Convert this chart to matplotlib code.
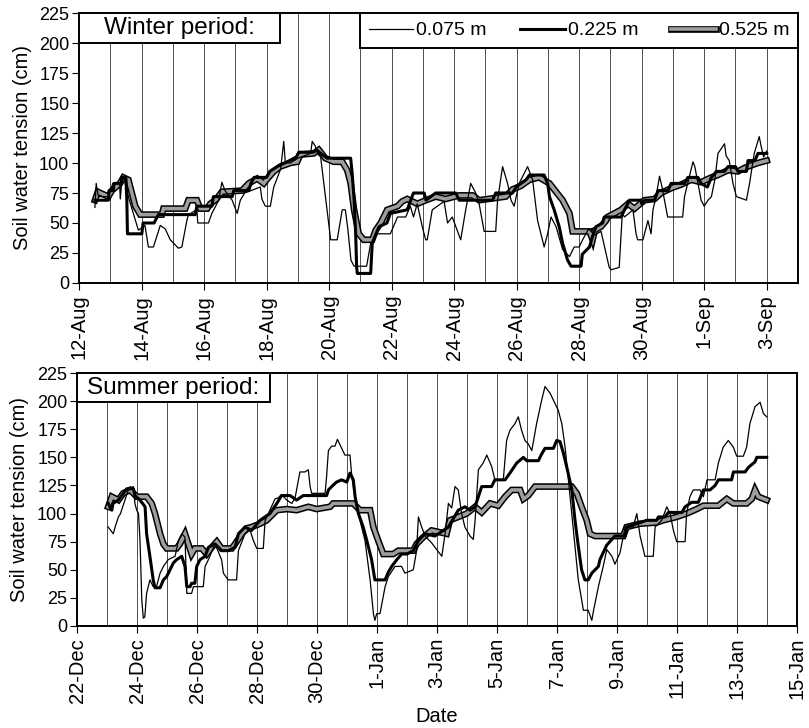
import numpy as np
import pandas as pd
import matplotlib
matplotlib.use('Agg')
import matplotlib.pyplot as plt
import matplotlib.dates as mdates
import matplotlib.patheffects as pe
from matplotlib.patches import Rectangle

plt.rcParams['font.family'] = ['Liberation Sans', 'DejaVu Sans']

# period limits and tick dates
winter_start, winter_end = '2000-08-12', '2000-09-04'
summer_start, summer_end = '2000-12-22', '2001-01-15'
depth_labels = ['0.075 m', '0.225 m', '0.525 m']
y_ticks = [0, 25, 50, 75, 100, 125, 150, 175, 200, 225]

# (days after period start, soil water tension in cm)
winter_075 = [
    (0.51, 63), (0.55, 83), (0.62, 72), (0.94, 72), (1.0, 76), (1.08, 83), (1.3, 83), (1.32, 70),
    (1.38, 88), (1.45, 86), (1.6, 70), (1.9, 44), (2.11, 48), (2.22, 30), (2.38, 30), (2.6, 48),
    (2.76, 45), (2.92, 36), (3.18, 29), (3.29, 30), (3.45, 52), (3.5, 57), (3.77, 61), (3.8, 50),
    (4.14, 50), (4.25, 58), (4.47, 69), (4.57, 84), (4.67, 77), (4.9, 69), (5.06, 58), (5.16, 69),
    (5.3, 75), (5.8, 80), (5.85, 70), (5.96, 64), (6.12, 64), (6.23, 80), (6.45, 95), (6.55, 118),
    (6.6, 100), (6.76, 100), (7.0, 104), (7.41, 108), (7.46, 118), (7.56, 114), (7.62, 108),
    (7.73, 105), (8.05, 36), (8.26, 36), (8.42, 61), (8.52, 61), (8.6, 45), (8.7, 19), (8.8, 14),
    (9.2, 14), (9.33, 33), (9.55, 41), (9.96, 41), (10.06, 47), (10.19, 55), (10.45, 55),
    (10.6, 64), (10.7, 55), (10.82, 66), (10.98, 47), (11.09, 36), (11.14, 36), (11.3, 61),
    (11.68, 68), (11.79, 50), (11.94, 55), (12.21, 36), (12.37, 61), (12.53, 83), (12.69, 75),
    (12.8, 66), (12.96, 43), (13.33, 43), (13.39, 69), (13.55, 97), (13.71, 83), (13.82, 69),
    (13.92, 64), (14.08, 83), (14.35, 97), (14.51, 86), (14.67, 52), (14.88, 30), (14.99, 41),
    (15.1, 55), (15.26, 47), (15.47, 28), (15.69, 22), (15.84, 30), (16.0, 30), (16.11, 36),
    (16.3, 45), (16.5, 40), (16.7, 43), (16.96, 13), (17.02, 11), (17.28, 13), (17.38, 58),
    (17.45, 55), (17.72, 61), (17.82, 41), (17.87, 36), (18.04, 36), (18.2, 52), (18.3, 41),
    (18.36, 61), (18.46, 72), (18.57, 89), (18.65, 80), (18.73, 69), (18.83, 55), (19.31, 55),
    (19.37, 72), (19.53, 89), (19.64, 101), (19.7, 97), (19.8, 83), (19.9, 69), (20.0, 64),
    (20.12, 69), (20.23, 72), (20.34, 86), (20.44, 108), (20.65, 116), (20.7, 106), (20.8, 102),
    (20.92, 83), (21.03, 72), (21.35, 69), (21.45, 83), (21.6, 108), (21.76, 122), (21.82, 114),
    (21.9, 105), (22.0, 110),
]
winter_225 = [
    (0.51, 69), (0.94, 69), (0.96, 77), (1.1, 77), (1.12, 83), (1.35, 83), (1.37, 88), (1.5, 88),
    (1.53, 69), (1.55, 41), (2.01, 41), (2.05, 50), (2.4, 50), (2.54, 57), (3.72, 57), (3.77, 64),
    (4.25, 64), (4.3, 72), (4.9, 72), (4.95, 77), (5.43, 77), (5.5, 83), (5.6, 88), (6.0, 88),
    (6.1, 93), (6.34, 97), (6.66, 101), (6.95, 105), (7.03, 109), (7.51, 109), (7.6, 111),
    (7.78, 107), (7.94, 104), (8.69, 104), (8.74, 91), (8.8, 69), (8.85, 41), (8.88, 14), (8.9, 8),
    (9.33, 8), (9.38, 33), (9.5, 41), (9.6, 47), (9.85, 50), (9.96, 58), (10.5, 61), (10.61, 69),
    (10.7, 75), (11.04, 75), (11.1, 69), (11.41, 75), (12.05, 75), (12.16, 69), (13.23, 69),
    (13.33, 75), (13.87, 75), (13.98, 80), (14.3, 86), (14.41, 90), (14.88, 90), (14.99, 83),
    (15.05, 72), (15.2, 61), (15.36, 47), (15.47, 33), (15.63, 19), (15.74, 14), (16.06, 14),
    (16.1, 24), (16.33, 30), (16.43, 39), (16.54, 47), (16.75, 50), (16.8, 55), (17.34, 55),
    (17.45, 61), (17.61, 69), (17.98, 69), (18.0, 66), (18.1, 69), (18.41, 69), (18.52, 77),
    (18.84, 77), (18.94, 83), (19.37, 83), (19.48, 88), (19.8, 88), (19.9, 83), (20.1, 80),
    (20.23, 88), (20.39, 93), (20.65, 93), (20.76, 97), (21.0, 97), (21.08, 93), (21.35, 93),
    (21.4, 102), (21.62, 102), (21.72, 108), (22.0, 108),
]
winter_525 = [
    (0.51, 69), (0.6, 76), (0.94, 72), (1.05, 77), (1.31, 83), (1.42, 88), (1.58, 86), (1.69, 75),
    (1.8, 64), (1.96, 57), (2.65, 57), (2.7, 62), (3.4, 62), (3.5, 69), (3.77, 69), (3.88, 62),
    (4.1, 62), (4.2, 66), (4.4, 70), (4.57, 76), (5.21, 77), (5.43, 83), (5.7, 87), (5.91, 83),
    (6.0, 86), (6.23, 93), (6.44, 97), (6.76, 100), (6.98, 101), (7.08, 107), (7.51, 108),
    (7.67, 111), (7.88, 104), (8.15, 101), (8.42, 101), (8.58, 94), (8.69, 83), (8.8, 61),
    (8.95, 41), (9.11, 36), (9.38, 36), (9.49, 44), (9.65, 50), (9.86, 61), (10.19, 64),
    (10.34, 68), (10.5, 70), (10.82, 66), (11.1, 69), (11.41, 72), (11.73, 70), (12.16, 73),
    (12.59, 73), (12.8, 69), (13.65, 72), (13.87, 78), (14.14, 81), (14.41, 86), (14.72, 88),
    (15.05, 83), (15.26, 76), (15.47, 69), (15.69, 58), (15.79, 43), (16.33, 43), (16.43, 36),
    (16.5, 44), (16.7, 47), (16.86, 52), (16.91, 55), (17.34, 61), (17.56, 66), (17.77, 62),
    (18.09, 69), (18.41, 70), (18.62, 75), (18.94, 79), (19.26, 82), (19.58, 86), (19.9, 84),
    (20.23, 88), (20.44, 90), (20.76, 94), (21.08, 93), (21.3, 96), (21.5, 98), (21.72, 100),
    (22.0, 102),
]

summer_075 = [
    (1.04, 88), (1.21, 82), (1.27, 88), (1.38, 97), (1.45, 100), (1.6, 112), (1.71, 121),
    (1.88, 124), (1.93, 109), (1.99, 103), (2.05, 100), (2.1, 76), (2.16, 23), (2.21, 7),
    (2.26, 8), (2.32, 29), (2.43, 41), (2.54, 35), (2.65, 35), (2.77, 47), (2.88, 53), (3.04, 59),
    (3.27, 62), (3.38, 76), (3.49, 82), (3.6, 79), (3.66, 29), (3.82, 29), (3.88, 35), (4.21, 35),
    (4.27, 53), (4.38, 59), (4.6, 73), (4.82, 59), (4.88, 47), (5.04, 41), (5.32, 41), (5.38, 67),
    (5.6, 82), (5.77, 85), (5.88, 76), (5.99, 69), (6.21, 69), (6.27, 94), (6.43, 103),
    (6.6, 113), (6.71, 114), (6.82, 117), (6.99, 112), (7.16, 109), (7.27, 114), (7.38, 130),
    (7.43, 137), (7.6, 137), (7.71, 139), (7.77, 124), (7.82, 118), (8.27, 118), (8.32, 133),
    (8.38, 156), (8.49, 160), (8.6, 160), (8.68, 166), (8.77, 161), (8.93, 152), (9.1, 152),
    (9.16, 133), (9.32, 106), (9.49, 88), (9.6, 76), (9.77, 41), (9.88, 11), (9.93, 5),
    (9.99, 11), (10.1, 11), (10.27, 35), (10.38, 44), (10.6, 53), (10.82, 53), (10.93, 47),
    (11.21, 50), (11.32, 67), (11.38, 97), (11.49, 88), (11.6, 80), (11.82, 74), (11.99, 68),
    (12.16, 62), (12.27, 82), (12.38, 109), (12.49, 105), (12.6, 124), (12.71, 121), (12.82, 100),
    (12.93, 88), (13.1, 80), (13.21, 77), (13.27, 94), (13.38, 139), (13.54, 145), (13.66, 152),
    (13.82, 142), (13.93, 130), (14.21, 130), (14.32, 165), (14.43, 174), (14.6, 180),
    (14.71, 186), (14.82, 174), (14.93, 165), (15.04, 162), (15.16, 156), (15.32, 180),
    (15.49, 201), (15.6, 213), (15.77, 207), (15.93, 198), (16.04, 192), (16.16, 180),
    (16.27, 159), (16.38, 130), (16.49, 100), (16.6, 71), (16.71, 41), (16.88, 14), (17.04, 14),
    (17.16, 5), (17.22, 14), (17.38, 35), (17.54, 53), (17.66, 68), (17.83, 62), (17.93, 55),
    (18.1, 65), (18.27, 88), (18.54, 88), (18.66, 100), (18.77, 80), (18.93, 62), (19.21, 62),
    (19.27, 88), (19.49, 94), (19.66, 106), (19.77, 100), (19.88, 85), (19.99, 75), (20.27, 75),
    (20.32, 100), (20.43, 115), (20.54, 121), (20.77, 121), (20.88, 115), (21.0, 130),
    (21.27, 130), (21.38, 145), (21.54, 159), (21.71, 165), (21.88, 159), (21.99, 151),
    (22.21, 151), (22.32, 159), (22.43, 180), (22.6, 195), (22.77, 199), (22.88, 189),
    (22.99, 186),
]
summer_225 = [
    (1.04, 109), (1.16, 103), (1.2, 109), (1.38, 112), (1.66, 122), (1.88, 122), (1.93, 116),
    (2.1, 112), (2.27, 106), (2.32, 82), (2.43, 62), (2.54, 41), (2.6, 34), (2.77, 34),
    (2.88, 41), (2.99, 44), (3.1, 50), (3.21, 56), (3.32, 59), (3.49, 62), (3.6, 53), (3.66, 35),
    (3.77, 35), (3.82, 38), (3.93, 38), (3.99, 53), (4.1, 59), (4.27, 62), (4.38, 70), (4.6, 73),
    (4.82, 67), (5.04, 67), (5.27, 70), (5.38, 82), (5.6, 88), (5.82, 85), (6.1, 94), (6.43, 100),
    (6.66, 109), (6.82, 116), (7.1, 116), (7.32, 112), (7.54, 116), (8.32, 116), (8.38, 121),
    (8.49, 124), (8.65, 128), (8.82, 130), (8.99, 128), (9.1, 136), (9.21, 130), (9.27, 115),
    (9.38, 100), (9.54, 88), (9.66, 76), (9.82, 59), (9.93, 41), (10.27, 41), (10.38, 48),
    (10.49, 53), (10.66, 59), (10.82, 64), (11.0, 64), (11.21, 67), (11.38, 76), (11.6, 82),
    (11.93, 80), (12.38, 88), (12.71, 103), (12.93, 106), (13.1, 103), (13.27, 106),
    (13.49, 124), (13.82, 124), (13.93, 130), (14.27, 130), (14.43, 136), (14.66, 145),
    (14.88, 150), (14.99, 147), (15.38, 147), (15.49, 153), (15.6, 158), (15.88, 158),
    (15.99, 165), (16.1, 164), (16.21, 154), (16.32, 142), (16.49, 122), (16.6, 94), (16.71, 71),
    (16.82, 50), (16.93, 41), (17.04, 41), (17.16, 47), (17.38, 53), (17.43, 59), (17.66, 72),
    (17.93, 80), (18.27, 80), (18.32, 88), (18.66, 91), (18.99, 94), (19.32, 94), (19.38, 97),
    (19.6, 97), (19.71, 101), (20.16, 101), (20.27, 106), (20.49, 110), (20.71, 110),
    (20.88, 121), (21.1, 121), (21.27, 125), (21.38, 130), (21.82, 130), (21.88, 137),
    (22.27, 137), (22.38, 141), (22.6, 146), (22.66, 150), (22.99, 150),
]
summer_525 = [
    (1.04, 106), (1.16, 115), (1.38, 112), (1.54, 118), (1.77, 121), (1.99, 115), (2.32, 115),
    (2.49, 109), (2.6, 100), (2.77, 82), (2.88, 73), (2.99, 69), (3.32, 69), (3.43, 73),
    (3.6, 82), (3.71, 73), (3.82, 64), (3.93, 69), (4.16, 69), (4.32, 64), (4.49, 70), (4.66, 75),
    (4.82, 69), (5.16, 69), (5.27, 73), (5.49, 82), (5.66, 87), (5.82, 88), (6.1, 91), (6.32, 94),
    (6.66, 103), (6.99, 104), (7.32, 103), (7.71, 106), (7.99, 104), (8.43, 106), (8.54, 109),
    (9.21, 109), (9.43, 103), (9.77, 103), (9.88, 88), (10.04, 76), (10.21, 64), (10.54, 64),
    (10.71, 67), (11.21, 67), (11.32, 73), (11.54, 79), (11.82, 85), (12.32, 82), (12.43, 94),
    (12.71, 97), (12.99, 100), (13.27, 106), (13.49, 101), (13.77, 109), (14.04, 107),
    (14.27, 115), (14.49, 121), (14.77, 121), (14.88, 113), (15.04, 116), (15.27, 124),
    (16.49, 124), (16.66, 118), (16.82, 106), (16.99, 94), (17.1, 82), (17.27, 80), (18.21, 80),
    (18.32, 88), (18.77, 91), (19.32, 92), (19.54, 94), (19.99, 97), (20.32, 100), (20.66, 104),
    (20.88, 107), (21.38, 107), (21.66, 113), (21.88, 109), (22.32, 109), (22.49, 113),
    (22.6, 121), (22.71, 115), (22.99, 112),
]


def to_dates(start, pairs):
    arr = np.array(pairs, dtype=float)
    t = pd.Timestamp(start) + pd.to_timedelta(arr[:, 0], unit='D')
    return t, arr[:, 1]


def draw_panel(ax, start, end, series, title, box_w, box_h, show_legend=False):
    # daily vertical lines
    for day in pd.date_range(start, end, freq='D')[1:-1]:
        ax.axvline(day, color='0.3', lw=0.7, zorder=0)

    s075, s225, s525 = series
    t, v = to_dates(start, s525)
    l525, = ax.plot(t, v, color='0.62', lw=2.6, solid_joinstyle='miter',
                    path_effects=[pe.Stroke(linewidth=4.8, foreground='black'), pe.Normal()],
                    label=depth_labels[2], zorder=2)
    t, v = to_dates(start, s225)
    l225, = ax.plot(t, v, color='black', lw=2.2, label=depth_labels[1], zorder=3)
    t, v = to_dates(start, s075)
    l075, = ax.plot(t, v, color='black', lw=0.9, label=depth_labels[0], zorder=4)

    ax.set_xlim(pd.Timestamp(start), pd.Timestamp(end))
    ax.set_ylim(0, 225)
    ax.set_yticks(y_ticks)
    ax.set_xticks(pd.date_range(start, end, freq='2D'))
    ax.xaxis.set_major_formatter(mdates.DateFormatter('%-d-%b'))
    ax.tick_params(axis='x', rotation=90, labelsize=14.5, direction='out', length=5)
    ax.tick_params(axis='y', labelsize=13, direction='out', length=5, pad=2)
    for sp in ax.spines.values():
        sp.set_linewidth(1.4)
    ax.set_ylabel('Soil water tension (cm)', fontsize=14.5)
    ax.yaxis.set_label_coords(-0.066, 0.5)

    # boxed period title in the upper left corner
    ax.add_patch(Rectangle((0, 1 - box_h), box_w, box_h, transform=ax.transAxes,
                           facecolor='white', edgecolor='black', lw=1.4, zorder=5))
    ax.text(box_w / 2, 1 - box_h / 2, title, transform=ax.transAxes, fontsize=17.5,
            ha='center', va='center', zorder=6)

    if show_legend:
        leg = ax.legend(handles=[l075, l225, l525], loc='upper right', ncol=3,
                        fontsize=14, frameon=True, fancybox=False, borderaxespad=0,
                        handlelength=2.3, handletextpad=0.15, columnspacing=1.7,
                        borderpad=0.45)
        leg.get_frame().set_edgecolor('black')
        leg.get_frame().set_linewidth(1.4)
        leg.get_frame().set_alpha(1)


fig = plt.figure(figsize=(8.09, 7.28), dpi=100)
ax1 = fig.add_axes([79 / 809, 1 - 283 / 728, 719 / 809, 270 / 728])
ax2 = fig.add_axes([77 / 809, 1 - 626 / 728, 720 / 809, 253 / 728])

draw_panel(ax1, winter_start, winter_end, (winter_075, winter_225, winter_525),
           'Winter period:', 0.28, 0.112, show_legend=True)
draw_panel(ax2, summer_start, summer_end, (summer_075, summer_225, summer_525),
           'Summer period:', 0.268, 0.115)

ax2.set_xlabel('Date', fontsize=14.5)
ax2.xaxis.set_label_coords(0.5, -0.32)

fig.savefig('out.png', dpi=100)
